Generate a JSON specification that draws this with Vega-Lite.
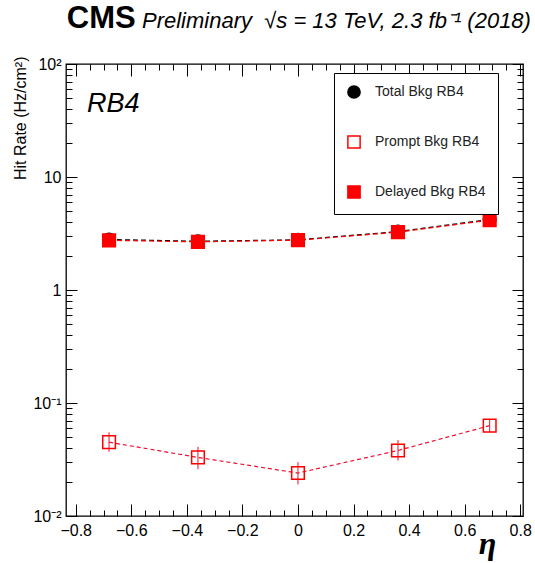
{
  "$schema": "https://vega.github.io/schema/vega-lite/v6.json",
  "width": 457,
  "height": 452,
  "autosize": "none",
  "padding": {"left": 66, "top": 64, "right": 12, "bottom": 47},
  "background": "white",
  "config": {
    "view": {"stroke": "#000000", "strokeWidth": 1.3},
    "axis": {
      "domain": false,
      "grid": false,
      "tickColor": "#000000",
      "tickWidth": 1,
      "labelColor": "#000000",
      "labelFont": "Liberation Sans",
      "labelFontSize": 16,
      "labelFlush": false,
      "labelOverlap": false,
      "labelBound": false,
      "titleColor": "#000000",
      "titleFont": "Liberation Sans",
      "titleFontWeight": "normal"
    },
    "legend": {
      "padding": 12,
      "rowPadding": 30,
      "labelFont": "Liberation Sans",
      "labelFontSize": 14,
      "labelColor": "#222222",
      "symbolOffset": 1,
      "labelOffset": 14,
      "symbolStrokeWidth": 1.5,
      "symbolSize": 150,
      "strokeColor": "#000000",
      "fillColor": "#ffffff",
      "cornerRadius": 0
    }
  },
  "data": {
    "values": [
      {"eta": -0.68, "series": "Total Bkg RB4", "rate": 2.80},
      {"eta": -0.36, "series": "Total Bkg RB4", "rate": 2.70},
      {"eta": 0.0, "series": "Total Bkg RB4", "rate": 2.78},
      {"eta": 0.36, "series": "Total Bkg RB4", "rate": 3.29},
      {"eta": 0.69, "series": "Total Bkg RB4", "rate": 4.21},
      {"eta": -0.68, "series": "Prompt Bkg RB4", "rate": 0.045, "lo": 0.037, "hi": 0.055},
      {"eta": -0.36, "series": "Prompt Bkg RB4", "rate": 0.033, "lo": 0.026, "hi": 0.041},
      {"eta": 0.0, "series": "Prompt Bkg RB4", "rate": 0.024, "lo": 0.019, "hi": 0.030},
      {"eta": 0.36, "series": "Prompt Bkg RB4", "rate": 0.038, "lo": 0.031, "hi": 0.047},
      {"eta": 0.69, "series": "Prompt Bkg RB4", "rate": 0.063, "lo": 0.055, "hi": 0.072},
      {"eta": -0.68, "series": "Delayed Bkg RB4", "rate": 2.75},
      {"eta": -0.36, "series": "Delayed Bkg RB4", "rate": 2.67},
      {"eta": 0.0, "series": "Delayed Bkg RB4", "rate": 2.76},
      {"eta": 0.36, "series": "Delayed Bkg RB4", "rate": 3.25},
      {"eta": 0.69, "series": "Delayed Bkg RB4", "rate": 4.15}
    ]
  },
  "resolve": {"axis": {"x": "independent", "y": "independent"}},
  "layer": [
    {
      "transform": [{"filter": "datum.series === 'Total Bkg RB4'"}],
      "mark": {"type": "line", "color": "#000000", "strokeWidth": 1.2, "strokeDash": [5, 3]},
      "encoding": {
        "x": {
          "field": "eta", "type": "quantitative",
          "scale": {"domain": [-0.835, 0.81], "nice": false, "zero": false},
          "axis": {
            "orient": "bottom",
            "values": [-0.8, -0.6, -0.4, -0.2, 0, 0.2, 0.4, 0.6, 0.8],
            "format": ".1~f",
            "offset": -12,
            "tickSize": 12,
            "labelPadding": 6,
            "title": "η",
            "titleFont": "Liberation Serif",
            "titleFontStyle": "italic",
            "titleFontWeight": "bold",
            "titleFontSize": 32,
            "titleX": 421,
            "titleY": 49,
            "titleAlign": "center",
            "titleBaseline": "alphabetic"
          }
        },
        "y": {
          "field": "rate", "type": "quantitative",
          "scale": {"type": "log", "domain": [0.01, 100], "nice": false},
          "axis": {
            "orient": "left",
            "values": [0.01, 0.1, 1, 10, 100],
            "labelExpr": "datum.value > 50 ? '10²' : datum.value > 5 ? '10' : datum.value > 0.5 ? '1' : datum.value > 0.05 ? '10⁻¹' : '10⁻²'",
            "offset": -11,
            "tickSize": 11,
            "labelPadding": 5,
            "title": "Hit Rate (Hz/cm²)",
            "titleFontSize": 16,
            "titleAngle": -90,
            "titleAlign": "right",
            "titleBaseline": "middle",
            "titleX": -57,
            "titleY": -8
          }
        }
      }
    },
    {
      "transform": [{"filter": "datum.series === 'Delayed Bkg RB4'"}],
      "mark": {"type": "line", "color": "#ff0000", "strokeWidth": 1.2, "strokeDash": [5, 3]},
      "encoding": {
        "x": {
          "field": "eta", "type": "quantitative",
          "scale": {"domain": [-0.835, 0.81], "nice": false, "zero": false},
          "axis": {
            "orient": "bottom",
            "values": [-0.75, -0.7, -0.65, -0.55, -0.5, -0.45, -0.35, -0.3, -0.25, -0.15, -0.1, -0.05, 0.05, 0.1, 0.15, 0.25, 0.3, 0.35, 0.45, 0.5, 0.55, 0.65, 0.7, 0.75],
            "offset": -6,
            "tickSize": 6,
            "labels": false,
            "title": null
          }
        },
        "y": {
          "field": "rate", "type": "quantitative",
          "scale": {"type": "log", "domain": [0.01, 100], "nice": false},
          "axis": {
            "orient": "left",
            "values": [0.02, 0.03, 0.04, 0.05, 0.06, 0.07, 0.08, 0.09, 0.2, 0.3, 0.4, 0.5, 0.6, 0.7, 0.8, 0.9, 2, 3, 4, 5, 6, 7, 8, 9, 20, 30, 40, 50, 60, 70, 80, 90],
            "offset": -6,
            "tickSize": 6,
            "labels": false,
            "title": null
          }
        }
      }
    },
    {
      "transform": [{"filter": "datum.series === 'Prompt Bkg RB4'"}],
      "mark": {"type": "line", "color": "#ee1133", "strokeWidth": 1.2, "strokeDash": [4, 3]},
      "encoding": {
        "x": {
          "field": "eta", "type": "quantitative",
          "scale": {"domain": [-0.835, 0.81], "nice": false, "zero": false},
          "axis": {
            "orient": "top",
            "values": [-0.8, -0.6, -0.4, -0.2, 0, 0.2, 0.4, 0.6, 0.8],
            "offset": -12,
            "tickSize": 12,
            "labels": false,
            "title": null
          }
        },
        "y": {
          "field": "rate", "type": "quantitative",
          "scale": {"type": "log", "domain": [0.01, 100], "nice": false},
          "axis": {
            "orient": "right",
            "values": [0.01, 0.1, 1, 10, 100],
            "offset": -11,
            "tickSize": 11,
            "labels": false,
            "title": null
          }
        }
      }
    },
    {
      "transform": [{"filter": "datum.series === 'Prompt Bkg RB4'"}],
      "mark": {"type": "rule", "color": "#ee1133", "strokeWidth": 1},
      "encoding": {
        "x": {
          "field": "eta", "type": "quantitative",
          "scale": {"domain": [-0.835, 0.81], "nice": false, "zero": false},
          "axis": {
            "orient": "top",
            "values": [-0.75, -0.7, -0.65, -0.55, -0.5, -0.45, -0.35, -0.3, -0.25, -0.15, -0.1, -0.05, 0.05, 0.1, 0.15, 0.25, 0.3, 0.35, 0.45, 0.5, 0.55, 0.65, 0.7, 0.75],
            "offset": -6,
            "tickSize": 6,
            "labels": false,
            "title": null
          }
        },
        "y": {
          "field": "lo", "type": "quantitative",
          "scale": {"type": "log", "domain": [0.01, 100], "nice": false},
          "axis": {
            "orient": "right",
            "values": [0.02, 0.03, 0.04, 0.05, 0.06, 0.07, 0.08, 0.09, 0.2, 0.3, 0.4, 0.5, 0.6, 0.7, 0.8, 0.9, 2, 3, 4, 5, 6, 7, 8, 9, 20, 30, 40, 50, 60, 70, 80, 90],
            "offset": -6,
            "tickSize": 6,
            "labels": false,
            "title": null
          }
        },
        "y2": {"field": "hi"}
      }
    },
    {
      "mark": {"type": "point", "filled": false, "strokeWidth": 1.5, "opacity": 1},
      "encoding": {
        "x": {
          "field": "eta", "type": "quantitative",
          "scale": {"domain": [-0.835, 0.81], "nice": false, "zero": false},
          "axis": null
        },
        "y": {
          "field": "rate", "type": "quantitative",
          "scale": {"type": "log", "domain": [0.01, 100], "nice": false},
          "axis": null
        },
        "color": {
          "field": "series", "type": "nominal",
          "scale": {"domain": ["Total Bkg RB4", "Prompt Bkg RB4", "Delayed Bkg RB4"], "range": ["#000000", "#ff0000", "#ff0000"]},
          "legend": {"orient": "none", "legendX": 268, "legendY": 9, "title": null}
        },
        "fill": {
          "field": "series", "type": "nominal",
          "scale": {"domain": ["Total Bkg RB4", "Prompt Bkg RB4", "Delayed Bkg RB4"], "range": ["#000000", "transparent", "#ff0000"]},
          "legend": {"orient": "none", "legendX": 268, "legendY": 9, "title": null}
        },
        "shape": {
          "field": "series", "type": "nominal",
          "scale": {"domain": ["Total Bkg RB4", "Prompt Bkg RB4", "Delayed Bkg RB4"], "range": ["circle", "square", "square"]},
          "legend": {"orient": "none", "legendX": 268, "legendY": 9, "title": null}
        },
        "size": {"value": 160}
      }
    },
    {
      "data": {"values": [{}]},
      "mark": {"type": "text", "text": "CMS", "font": "Liberation Sans", "fontWeight": "bold", "fontSize": 31, "align": "left", "baseline": "alphabetic", "color": "#000000"},
      "encoding": {
        "x": {"datum": -0.832, "type": "quantitative", "scale": {"domain": [-0.835, 0.81], "nice": false, "zero": false}, "axis": null},
        "y": {"datum": 208, "type": "quantitative", "scale": {"type": "log", "domain": [0.01, 100], "nice": false}, "axis": null}
      }
    },
    {
      "data": {"values": [{}]},
      "mark": {"type": "text", "text": "Preliminary\u00a0\u00a0√s = 13 TeV, 2.3 fb⁻¹ (2018)", "font": "Liberation Sans", "fontStyle": "italic", "fontWeight": "normal", "fontSize": 22, "align": "left", "baseline": "alphabetic", "color": "#000000"},
      "encoding": {
        "x": {"datum": -0.5616, "type": "quantitative", "scale": {"domain": [-0.835, 0.81], "nice": false, "zero": false}, "axis": null},
        "y": {"datum": 208, "type": "quantitative", "scale": {"type": "log", "domain": [0.01, 100], "nice": false}, "axis": null}
      }
    },
    {
      "data": {"values": [{}]},
      "mark": {"type": "text", "text": "RB4", "font": "Liberation Sans", "fontStyle": "italic", "fontWeight": "normal", "fontSize": 27, "align": "left", "baseline": "alphabetic", "color": "#000000"},
      "encoding": {
        "x": {"datum": -0.7595, "type": "quantitative", "scale": {"domain": [-0.835, 0.81], "nice": false, "zero": false}, "axis": null},
        "y": {"datum": 37.7, "type": "quantitative", "scale": {"type": "log", "domain": [0.01, 100], "nice": false}, "axis": null}
      }
    }
  ]
}
